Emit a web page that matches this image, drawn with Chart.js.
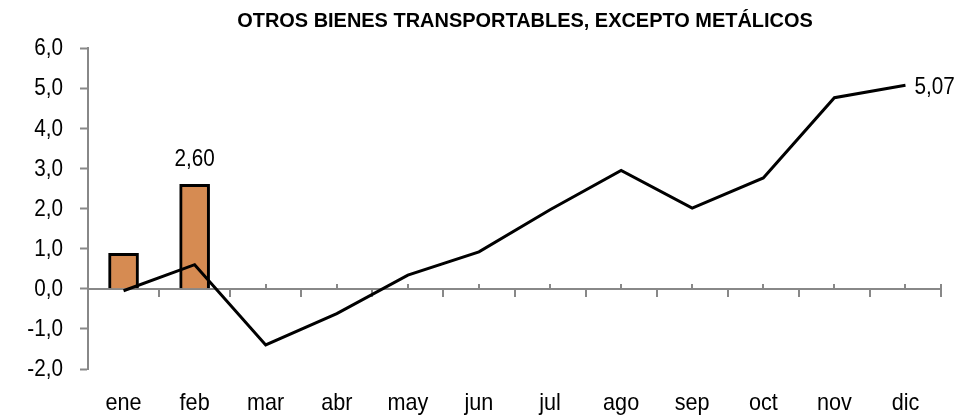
<!DOCTYPE html>
<html>
<head>
<meta charset="utf-8">
<script src="https://cdn.jsdelivr.net/npm/chart.js@4.4.1/dist/chart.umd.min.js"></script>
<style>
  html, body { margin: 0; padding: 0; background: #fff; }
  #wrap { width: 960px; height: 416px; position: relative; }
</style>
</head>
<body>
<div id="wrap"><canvas id="chart"></canvas></div>
<script>
const FONT       = "'Liberation Sans', Arial, sans-serif";
const TITLE      = 'OTROS BIENES TRANSPORTABLES, EXCEPTO METÁLICOS';
const AXIS_GREY  = '#888888';
const SQUEEZE    = 0.9; // arial narrow look-alike

const months     = ['ene', 'feb', 'mar', 'abr', 'may', 'jun', 'jul', 'ago', 'sep', 'oct', 'nov', 'dic'];
const barValues  = [0.88, 2.60, null, null, null, null, null, null, null, null, null, null];
const lineValues = [-0.05, 0.60, -1.40, -0.62, 0.34, 0.92, 1.97, 2.95, 2.01, 2.76, 4.76, 5.07];
const yTicks     = [-2, -1, 0, 1, 2, 3, 4, 5, 6];

const fmt = (v, d) => v.toFixed(d).replace('.', ',');

function narrowText(ctx, text, x, y, font, align, factor) {
    ctx.save();
    ctx.font = font;
    ctx.textAlign = align;
    ctx.textBaseline = 'middle';
    ctx.translate(x, y);
    ctx.scale(factor, 1);
    ctx.fillText(text, 0, 0);
    ctx.restore();
}

// zero line + category ticks, excel style
const axisPlugin = {
    id: 'zeroAxis',
    beforeDatasetsDraw(chart) {
        const { ctx, chartArea, scales: { x, y } } = chart;
        const y0 = Math.round(y.getPixelForValue(0));
        const n  = months.length;
        const step = (chartArea.right - chartArea.left) / n;
        ctx.save();
        ctx.strokeStyle = AXIS_GREY;
        ctx.lineWidth = 2;
        ctx.beginPath();
        ctx.moveTo(chartArea.left, y0);
        ctx.lineTo(chartArea.right + 1, y0);
        for (let i = 1; i <= n; i++) {
            const bx = Math.round(chartArea.left + i * step);
            ctx.moveTo(bx, y0);
            ctx.lineTo(bx, y0 + 8);
        }
        ctx.moveTo(chartArea.right, y0);
        ctx.lineTo(chartArea.right, y0 - 5);
        for (let i = 0; i < n; i++) {
            const cx = Math.round(x.getPixelForValue(i));
            ctx.moveTo(cx, y0);
            ctx.lineTo(cx, y0 - 5);
        }
        ctx.stroke();
        ctx.restore();
    }
};

const labelPlugin = {
    id: 'labels',
    afterDatasetsDraw(chart) {
        const { ctx, chartArea, scales: { x, y } } = chart;
        ctx.save();
        ctx.fillStyle = '#000';
        narrowText(ctx, TITLE, 525, 21, 'bold 21px ' + FONT, 'center', 0.95);

        // axis labels
        yTicks.forEach(v => {
            narrowText(ctx, fmt(v, 1), chartArea.left - 25, y.getPixelForValue(v) + 1, '23px ' + FONT, 'right', SQUEEZE);
        });
        months.forEach((m, i) => {
            narrowText(ctx, m, x.getPixelForValue(i), 403, '24px ' + FONT, 'center', SQUEEZE);
        });

        // values
        narrowText(ctx, fmt(barValues[1], 2), x.getPixelForValue(1), y.getPixelForValue(barValues[1]) - 25,
                   '23px ' + FONT, 'center', SQUEEZE);
        const last = lineValues.length - 1;
        narrowText(ctx, fmt(lineValues[last], 2), x.getPixelForValue(last) + 9, y.getPixelForValue(lineValues[last]) + 2,
                   '23px ' + FONT, 'left', SQUEEZE);
        ctx.restore();
    }
};

new Chart(document.getElementById('chart'), {
    data: {
        labels: months,
        datasets: [
            {
                type: 'line',
                label: 'variación',
                data: lineValues,
                borderColor: '#000',
                borderWidth: 3,
                pointRadius: 0,
                tension: 0,
                order: 0
            },
            {
                type: 'bar',
                label: 'acumulado',
                data: barValues,
                backgroundColor: '#D68B52',
                borderColor: '#000',
                borderWidth: 3,
                barThickness: 30,
                order: 1
            }
        ]
    },
    options: {
        responsive: true,
        maintainAspectRatio: false,
        animation: false,
        layout: { padding: { top: 48, right: 19, left: 0, bottom: 0 } },
        plugins: {
            legend: { display: false },
            tooltip: { enabled: false }
        },
        scales: {
            x: {
                offset: true,
                grid: { display: false },
                border: { display: false },
                ticks: { display: false },
                afterFit: s => { s.height = 47; }
            },
            y: {
                min: -2,
                max: 6,
                afterBuildTicks: s => { s.ticks = yTicks.map(v => ({ value: v })); },
                grid: {
                    drawOnChartArea: false,
                    tickLength: 8,
                    tickColor: AXIS_GREY,
                    tickWidth: 2
                },
                border: { display: true, color: AXIS_GREY, width: 2 },
                ticks: { display: false },
                afterFit: s => { s.width = 88; }
            }
        }
    },
    plugins: [axisPlugin, labelPlugin]
});
</script>
</body>
</html>
